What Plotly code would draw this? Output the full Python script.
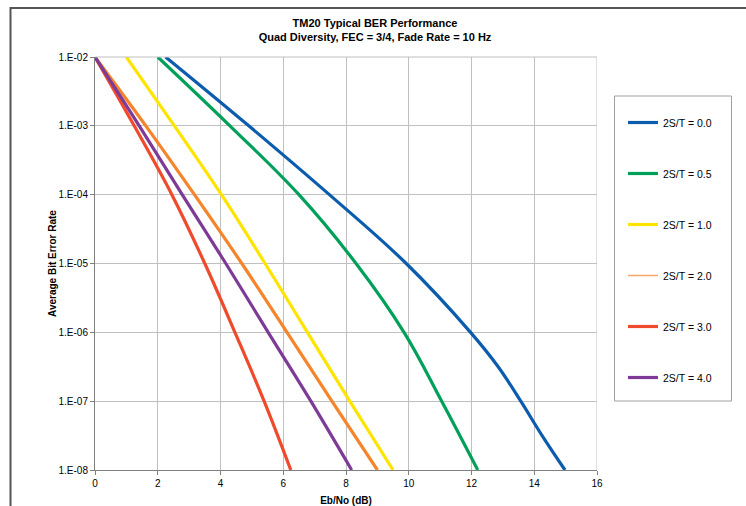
import plotly.graph_objects as go

# Eb/No (dB) points and log10(BER)
exp_std = [-2, -3, -4, -5, -6, -7, -8]

x_st00 = [2.25, 4.9, 7.47, 9.92, 11.97, 12.85, 13.57, 14.25, 14.98]
e_st00 = [-2, -3, -4, -5, -6, -6.5, -7, -7.5, -8]
x_st05 = [2.0, 4.3, 6.5, 8.32, 9.85, 11.05, 12.2]
x_st10 = [1.0, 2.53, 4.03, 5.42, 6.77, 8.12, 9.5]
x_st20 = [0.0, 1.62, 3.17, 4.68, 6.12, 7.55, 9.0]
x_st30 = [0.0, 1.25, 2.45, 3.5, 4.46, 5.39, 6.24]
x_st40 = [0.0, 1.41, 2.78, 4.17, 5.52, 6.88, 8.18]

series_names = ["2S/T = 0.0", "2S/T = 0.5", "2S/T = 1.0", "2S/T = 2.0", "2S/T = 3.0", "2S/T = 4.0"]
series_x = [x_st00, x_st05, x_st10, x_st20, x_st30, x_st40]
series_e = [e_st00, exp_std, exp_std, exp_std, exp_std, exp_std]
colors = ["#0B5CAD", "#00A05A", "#FFE400", "#F5842B", "#EF4A2C", "#7D3A96"]

y_tickvals = [1e-2, 1e-3, 1e-4, 1e-5, 1e-6, 1e-7, 1e-8]
y_ticktext = ["1.E-02", "1.E-03", "1.E-04", "1.E-05", "1.E-06", "1.E-07", "1.E-08"]
x_tickvals = [0, 2, 4, 6, 8, 10, 12, 14, 16]

FONT = "Liberation Sans, Arial, sans-serif"

fig = go.Figure()
for name, xs, es, col in zip(series_names, series_x, series_e, colors):
    is_orange = name == "2S/T = 2.0"
    fig.add_trace(go.Scatter(
        x=xs, y=[10 ** e for e in es], mode="lines", name=name,
        line=dict(color=col, width=3.2, shape="spline", smoothing=1.1),
        legendgroup=name, showlegend=not is_orange,
    ))
    if is_orange:
        fig.add_trace(go.Scatter(
            x=[None], y=[None], mode="lines", name=name,
            line=dict(color="#F7A868", width=1.5),
            legendgroup=name, showlegend=True,
        ))

def px2paper_x(px):
    return (px - 95) / 502.0

def py2paper_y(py):
    return (470 - py) / 413.0

shapes = [
    # outer chart border
    dict(type="rect", xref="paper", yref="paper",
         x0=px2paper_x(10.5), x1=px2paper_x(770), y0=py2paper_y(530), y1=py2paper_y(8),
         line=dict(color="#555555", width=2), fillcolor="rgba(0,0,0,0)", layer="below"),
    # legend box
    dict(type="rect", xref="paper", yref="paper",
         x0=px2paper_x(614.5), x1=px2paper_x(731.5), y0=py2paper_y(401), y1=py2paper_y(96),
         line=dict(color="#A0A0A0", width=1), fillcolor="white", layer="below"),
]

fig.update_layout(
    width=746, height=506,
    margin=dict(l=95, r=149, t=57, b=36, autoexpand=False),
    paper_bgcolor="white", plot_bgcolor="white",
    font=dict(family=FONT, size=10, color="#000000"),
    title=dict(
        text="<b>TM20 Typical BER Performance<br>Quad Diversity, FEC = 3/4, Fade Rate = 10 Hz</b>",
        x=375 / 746, xanchor="center", y=1 - 27 / 506, yanchor="middle",
        font=dict(family=FONT, size=11, color="#000000"),
    ),
    xaxis=dict(
        range=[0, 16], tickvals=x_tickvals, ticks="outside", ticklen=4, tickcolor="#808080",
        showgrid=True, gridcolor="#C0C0C0", gridwidth=1,
        showline=True, linecolor="#808080", linewidth=1, mirror=False,
        zeroline=False,
        title=dict(text="<b>Eb/No (dB)</b>", font=dict(family=FONT, size=10), standoff=9),
        tickfont=dict(family=FONT, size=10),
    ),
    yaxis=dict(
        type="log", range=[-8, -2], tickvals=y_tickvals, ticktext=y_ticktext,
        ticks="outside", ticklen=4, tickcolor="#808080",
        showgrid=True, gridcolor="#C0C0C0", gridwidth=1,
        showline=True, linecolor="#808080", linewidth=1,
        zeroline=False,
        title=dict(text="<b>Average Bit Error Rate</b>", font=dict(family=FONT, size=10), standoff=0),
        tickfont=dict(family=FONT, size=10),
    ),
    legend=dict(
        x=px2paper_x(623), xanchor="left", y=py2paper_y(108), yanchor="top",
        bgcolor="rgba(0,0,0,0)", borderwidth=0,
        font=dict(family=FONT, size=10.5),
        tracegroupgap=32, itemwidth=30,
    ),
    shapes=shapes,
    showlegend=True,
)
# right/top plot border lines (gridlines at 16 and 1e-2)
fig.add_shape(type="line", xref="x", yref="paper", x0=16, x1=16, y0=0, y1=1,
              line=dict(color="#C0C0C0", width=1))
fig.add_shape(type="line", xref="paper", yref="paper", x0=0, x1=1, y0=1, y1=1,
              line=dict(color="#C0C0C0", width=1))

fig.write_html(
    "out.html",
    config={"displayModeBar": False},
    post_script="document.body.style.margin='0';document.body.style.overflow='hidden';",
)
